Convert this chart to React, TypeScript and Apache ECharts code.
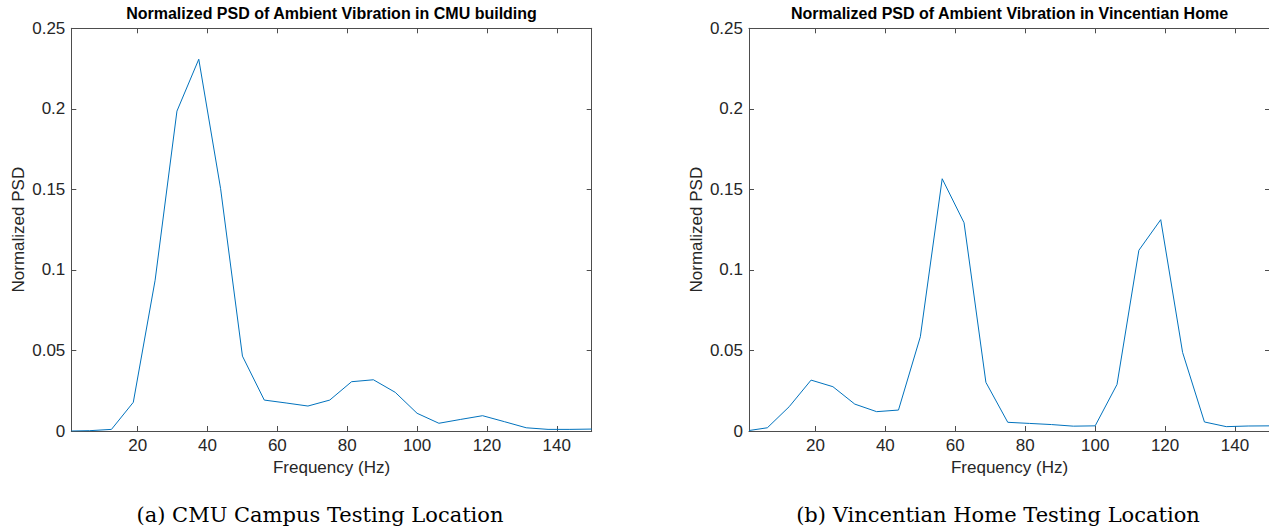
import React, { useEffect, useRef } from "react";
import * as echarts from "echarts";

const freqs = [1, 6.25, 12.5, 18.75, 25, 31.25, 37.5, 43.75, 50, 56.25, 62.5, 68.75, 75, 81.25, 87.5, 93.75, 100, 106.25, 112.5, 118.75, 125, 131.25, 137.5, 143.75, 150];
const cmuPsd = [0, 0.0002, 0.001, 0.0178, 0.0936, 0.1986, 0.2308, 0.1504, 0.0465, 0.0192, 0.0174, 0.0155, 0.0192, 0.0306, 0.0318, 0.024, 0.011, 0.0048, 0.0072, 0.0095, 0.0058, 0.002, 0.001, 0.001, 0.0012];
const homePsd = [0.0003, 0.002, 0.0151, 0.0316, 0.0275, 0.0167, 0.012, 0.013, 0.0585, 0.1566, 0.1293, 0.0302, 0.0054, 0.0047, 0.004, 0.003, 0.0032, 0.0289, 0.1122, 0.1312, 0.0488, 0.0056, 0.0027, 0.0031, 0.0032];
const xTicks = [20, 40, 60, 80, 100, 120, 140];
const titles = [
  "Normalized PSD of Ambient Vibration in CMU building",
  "Normalized PSD of Ambient Vibration in Vincentian Home",
];
const captions = ["(a) CMU Campus Testing Location", "(b) Vincentian Home Testing Location"];
const xName = "Frequency (Hz)";
const yName = "Normalized PSD";

const SANS = "'Liberation Sans', Arial, Helvetica, sans-serif";
const SERIF = "'DejaVu Serif', serif";
const TXT = "#262626";
const FRAME = { color: "#4d4d4d", width: 1 };

const grids = [
  { left: 71.3, top: 28.3, width: 520.4, height: 402.7 },
  { left: 749, top: 28.3, width: 521, height: 402.7 },
];

export default function App() {
  const ref = useRef<HTMLDivElement>(null);
  useEffect(() => {
    if (!ref.current) return;
    const chart = echarts.init(ref.current, null, { renderer: "svg" });
    const xAxis: any[] = [];
    const yAxis: any[] = [];
    const series: any[] = [];
    const graphic: any[] = [];
    const datasets = [cmuPsd, homePsd];
    grids.forEach((g, i) => {
      xAxis.push({
        type: "value", gridIndex: i, min: 1, max: 150, position: "bottom",
        axisLine: { show: true, onZero: false, lineStyle: FRAME },
        axisTick: { show: true, inside: true, length: 5, customValues: xTicks, lineStyle: FRAME },
        axisLabel: { show: true, customValues: xTicks, color: TXT, fontSize: 17, fontFamily: SANS, margin: 6 },
        splitLine: { show: false },
        name: xName, nameLocation: "middle", nameGap: 22,
        nameTextStyle: { color: TXT, fontSize: 17, fontFamily: SANS },
      });
      xAxis.push({
        type: "value", gridIndex: i, min: 1, max: 150, position: "top",
        axisLine: { show: true, onZero: false, lineStyle: FRAME },
        axisTick: { show: true, inside: true, length: 5, customValues: xTicks, lineStyle: FRAME },
        axisLabel: { show: false },
        splitLine: { show: false },
      });
      yAxis.push({
        type: "value", gridIndex: i, min: 0, max: 0.25, interval: 0.05, position: "left",
        axisLine: { show: true, onZero: false, lineStyle: FRAME },
        axisTick: { show: true, inside: true, length: 5, lineStyle: FRAME },
        axisLabel: { show: true, color: TXT, fontSize: 17, fontFamily: SANS, margin: 6 },
        splitLine: { show: false },
        name: yName, nameLocation: "middle", nameRotate: 90, nameGap: 44,
        nameTextStyle: { color: TXT, fontSize: 17, fontFamily: SANS },
      });
      yAxis.push({
        type: "value", gridIndex: i, min: 0, max: 0.25, interval: 0.05, position: "right",
        axisLine: { show: true, onZero: false, lineStyle: FRAME },
        axisTick: { show: true, inside: true, length: 5, lineStyle: FRAME },
        axisLabel: { show: false },
        splitLine: { show: false },
      });
      series.push({
        type: "line", xAxisIndex: i * 2, yAxisIndex: i * 2, symbol: "none",
        data: freqs.map((f, k) => [f, datasets[i][k]]),
        lineStyle: { color: "#0072BD", width: 1 }, clip: true,
      });
      const cx = g.left + g.width / 2;
      graphic.push({
        type: "text", x: cx, y: 13,
        style: { text: titles[i], fill: "#000", font: `bold 16px ${SANS}`, textAlign: "center", textVerticalAlign: "middle" },
      });
      graphic.push({
        type: "text", x: i === 0 ? 320 : 998, y: 515,
        style: { text: captions[i], fill: "#000", font: `21px ${SERIF}`, textAlign: "center", textVerticalAlign: "middle" },
      });
    });
    chart.setOption({
      animation: false,
      backgroundColor: "#ffffff",
      grid: grids.map((g) => ({ ...g, containLabel: false })),
      xAxis, yAxis, series, graphic,
    });
    return () => chart.dispose();
  }, []);
  return (
    <div style={{ position: "fixed", left: 0, top: 0, width: 1269, height: 529, overflow: "hidden", background: "#fff" }}>
      <div ref={ref} style={{ width: 1280, height: 529 }} />
    </div>
  );
}
